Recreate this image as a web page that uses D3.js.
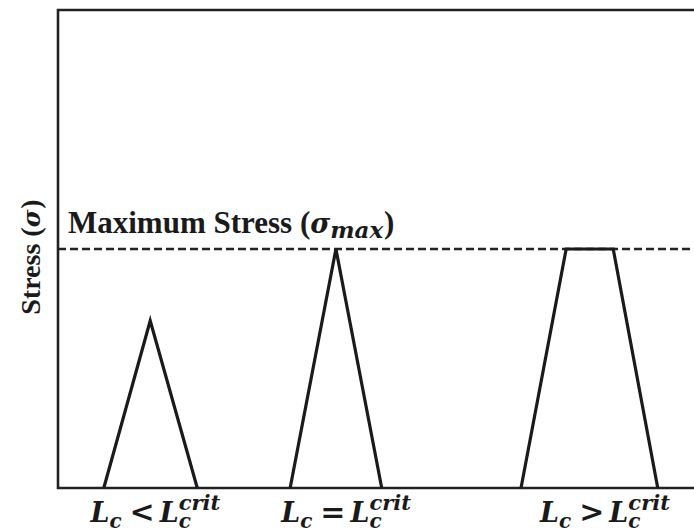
<!DOCTYPE html>
<html>
<head>
<meta charset="utf-8">
<title>Stress vs fibre length</title>
<script src="https://d3js.org/d3.v7.min.js"></script>
<style>
  body { margin: 0; background: #fff; }
  svg { display: block; }
</style>
</head>
<body>
<script>
// ---- data ----
// stress profiles along the fibre (x in arbitrary length units, y = stress / sigma_max)
var shortFibre = [[0.72, 0], [1.45, 0.70], [2.19, 0]];
var critFibre  = [[3.65, 0], [4.37, 1.0], [5.09, 0]];
var longFibre  = [[7.28, 0], [7.99, 1.0], [8.73, 1.0], [9.43, 0]];
var profiles = [shortFibre, critFibre, longFibre];
var maxStress = 1.0;
var labelX = [1.53, 4.53, 8.6];
var labelOps = ['<', '=', '>'];

var width = 694, height = 532;
var margin = {left: 58, top: 10, right: 0, bottom: 44};

var svg = d3.select('body').append('svg')
  .attr('width', width)
  .attr('height', height);

var x = d3.scaleLinear().domain([0, 10]).range([margin.left, width - margin.right]);
var y = d3.scaleLinear().domain([0, 2]).range([height - margin.bottom, margin.top]);

// frame (left, top, bottom only)
svg.append('path')
  .attr('d', 'M' + (width + 2) + ',' + y(2) + 'H' + x(0) + 'V' + y(0) + 'H' + (width + 2))
  .attr('fill', 'none')
  .attr('stroke', '#222')
  .attr('stroke-width', 2.6);

// max stress dashed line
svg.append('line')
  .attr('x1', x(0)).attr('x2', width)
  .attr('y1', y(maxStress)).attr('y2', y(maxStress))
  .attr('stroke', '#222')
  .attr('stroke-width', 2.4)
  .attr('stroke-dasharray', '8,4');

// profiles
var line = d3.line().x(function(d) { return x(d[0]); }).y(function(d) { return y(d[1]); });
svg.selectAll('path.profile')
  .data(profiles)
  .enter()
  .append('path')
  .attr('class', 'profile')
  .attr('d', line)
  .attr('fill', 'none')
  .attr('stroke', '#1a1a1a')
  .attr('stroke-width', 3.2)
  .attr('stroke-linejoin', 'miter');

// helper: lay out runs of text one after another
function runs(g, parts) {
  var cx = 0;
  parts.forEach(function(p) {
    var t = g.append('text')
      .attr('x', cx + (p.dx || 0))
      .attr('y', p.dy || 0)
      .attr('font-family', p.family || 'DejaVu Serif')
      .attr('font-weight', 'bold')
      .attr('font-style', p.italic ? 'italic' : 'normal')
      .attr('font-size', p.size)
      .attr('fill', '#1a1a1a')
      .text(p.t);
    var w = t.node().getComputedTextLength();
    if (!p.stack) cx += (p.dx || 0) + w + (p.after || 0);
  });
  return cx;
}

// y axis label
var yl = svg.append('g');
var ylw = runs(yl, [
  {t: 'Stress (', family: 'Liberation Serif', size: 28},
  {t: 'σ', italic: true, size: 24, after: 1},
  {t: ')', family: 'Liberation Serif', size: 28}
]);
yl.attr('transform', 'translate(40,' + (257 + ylw / 2) + ') rotate(-90)');

// max stress label
var ml = svg.append('g').attr('transform', 'translate(68,233)');
runs(ml, [
  {t: 'Maximum Stress (', family: 'Liberation Serif', size: 31},
  {t: 'σ', italic: true, size: 27},
  {t: 'max', italic: true, size: 23, dy: 5, after: 1},
  {t: ')', family: 'Liberation Serif', size: 31}
]);

// bottom labels
labelOps.forEach(function(op, i) {
  var g = svg.append('g');
  var parts = [
    {t: 'L', italic: true, size: 27},
    {t: 'c', italic: true, size: 20, dy: 6, after: 8},
    {t: op, size: 30, after: 5},
    {t: 'L', italic: true, size: 27},
    {t: 'c', italic: true, size: 20, dy: 6, stack: true},
    {t: 'crit', italic: true, size: 21, dy: -12}
  ];
  var w = runs(g, parts);
  g.attr('transform', 'translate(' + (x(labelX[i]) - w / 2) + ',522)');
});
</script>
</body>
</html>
